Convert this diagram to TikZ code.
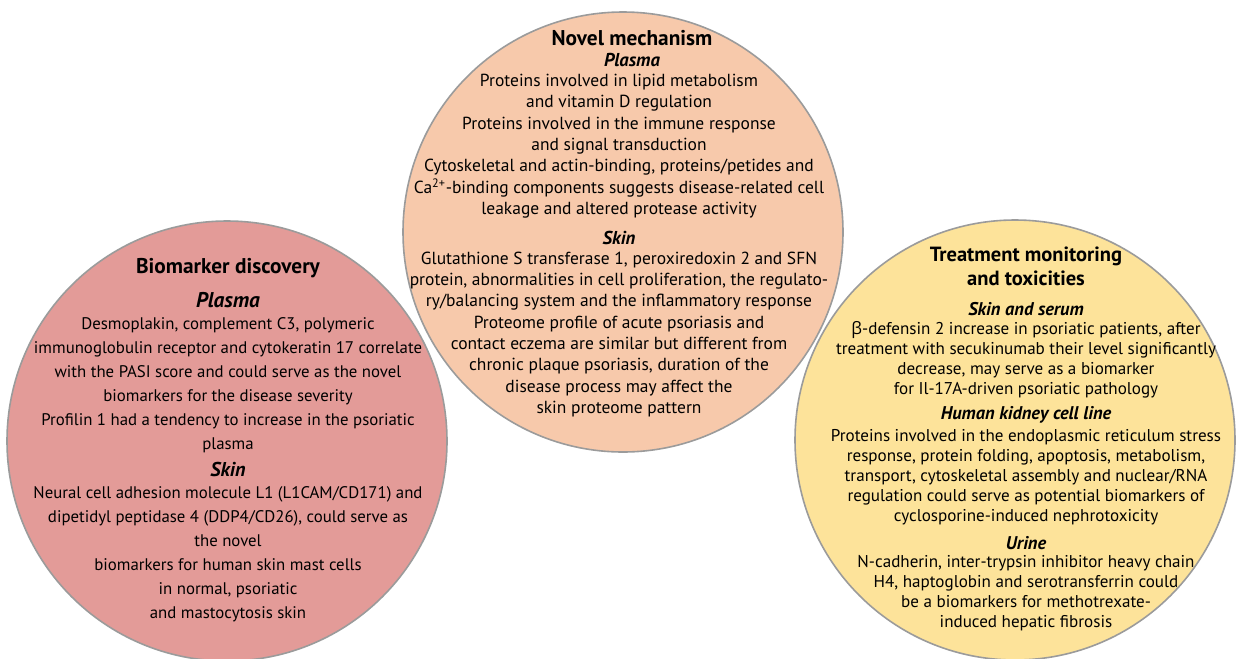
\documentclass[tikz,border=0pt]{standalone}
\usepackage{fontspec}
\setmainfont{PT Sans}
\newfontfamily\grkfont{Open Sans}
\usepackage{tikz}
\usetikzlibrary{positioning}
\definecolor{bioRed}{RGB}{227,155,152}
\definecolor{mechPeach}{RGB}{247,201,171}
\definecolor{treatYellow}{RGB}{253,227,154}
\definecolor{rimGray}{RGB}{155,155,155}
\tikzset{
  bubble/.style={circle, draw=rimGray, line width=1.2pt, minimum size=330pt, inner sep=0pt},
  head/.style={font=\fontsize{#1}{17.5}\selectfont\bfseries, align=center, inner sep=0pt},
  sub/.style={font=\fontsize{#1}{15}\selectfont\bfseries\itshape, inner sep=0pt},
  body/.style 2 args={font=\fontsize{#1}{#2}\selectfont, align=center, inner sep=0pt}
}

\begin{document}
\begin{tikzpicture}[x=0.75pt,y=-0.75pt]
  \useasboundingbox (0,0) rectangle (1240,658);

  % the three circles
  \node[bubble, fill=bioRed] (bio) at (227,441) {};
  \node[bubble, fill=mechPeach] (mech) at (623,232) {};
  \node[bubble, fill=treatYellow] (treat) at (1015,440) {};

  % biomarker discovery
  \node[head=16pt] (bioT) at (228,268) {Biomarker discovery};
  \node[sub=16pt] (bioP) at (228,300) {Plasma};
  \node[body={12.6pt}{18pt}] (bioPt) at (228,385.5) {Desmoplakin, complement C3, polymeric\\
    immunoglobulin receptor and cytokeratin 17 correlate\\
    with the PASI score and could serve as the novel\\
    biomarkers for the disease severity\\
    Profilin 1 had a tendency to increase in the psoriatic\\
    plasma};
  \node[sub=15pt] (bioS) at (228,469) {Skin};
  \node[body={12.6pt}{18pt}] (bioSt) at (228,554) {Neural cell adhesion molecule L1 (L1CAM/CD171) and\\
    dipetidyl peptidase 4 (DDP4/CD26), could serve as\\
    the novel\\
    biomarkers for human skin mast cells\\
    in normal, psoriatic\\
    and mastocytosis skin};

  % novel mechanism
  \node[head=16pt] (mechT) at (632,38) {Novel mechanism};
  \node[sub=14pt] (mechP) at (632,60) {Plasma};
  \node[body={13.1pt}{16pt}] (mechPt) at (619,146) {Proteins involved in lipid metabolism\\
    and vitamin D regulation\\
    Proteins involved in the immune response\\
    and signal transduction\\
    Cytoskeletal and actin-binding, proteins/petides and\\
    Ca\textsuperscript{2+}-binding components suggests disease-related cell\\
    leakage and altered protease activity};
  \node[sub=14pt] (mechS) at (619,238) {Skin};
  \node[body={13.1pt}{16pt}] (mechSt) at (619,334.5) {Glutathione S transferase 1, peroxiredoxin 2 and SFN\\
    protein, abnormalities in cell proliferation, the regulato-\\
    ry/balancing system and the inflammatory response\\
    Proteome profile of acute psoriasis and\\
    contact eczema are similar but different from\\
    chronic plaque psoriasis, duration of the\\
    disease process may affect the\\
    skin proteome pattern};

  % treatment monitoring
  \node[head=15.4pt] (treatT) at (1026,266.5) {Treatment monitoring\\and toxicities};
  \node[sub=13.8pt] (treatK) at (1026,309) {Skin and serum};
  \node[body={12.8pt}{15pt}] (treatKt) at (1026,359.5) {{\grkfont β}-defensin 2 increase in psoriatic patients, after\\
    treatment with secukinumab their level significantly\\
    decrease, may serve as a biomarker\\
    for Il-17A-driven psoriatic pathology};
  \node[sub=13.8pt] (treatH) at (1026,415) {Human kidney cell line};
  \node[body={12.8pt}{15pt}] (treatHt) at (1026,477) {Proteins involved in the endoplasmic reticulum stress\\
    response, protein folding, apoptosis, metabolism,\\
    transport, cytoskeletal assembly and nuclear/RNA\\
    regulation could serve as potential biomarkers of\\
    cyclosporine-induced nephrotoxicity};
  \node[sub=13.8pt] (treatU) at (1026,543) {Urine};
  \node[body={12.8pt}{15pt}] (treatUt) at (1026,593) {N-cadherin, inter-trypsin inhibitor heavy chain\\
    H4, haptoglobin and serotransferrin could\\
    be a biomarkers for methotrexate-\\
    induced hepatic fibrosis};
\end{tikzpicture}
\end{document}
